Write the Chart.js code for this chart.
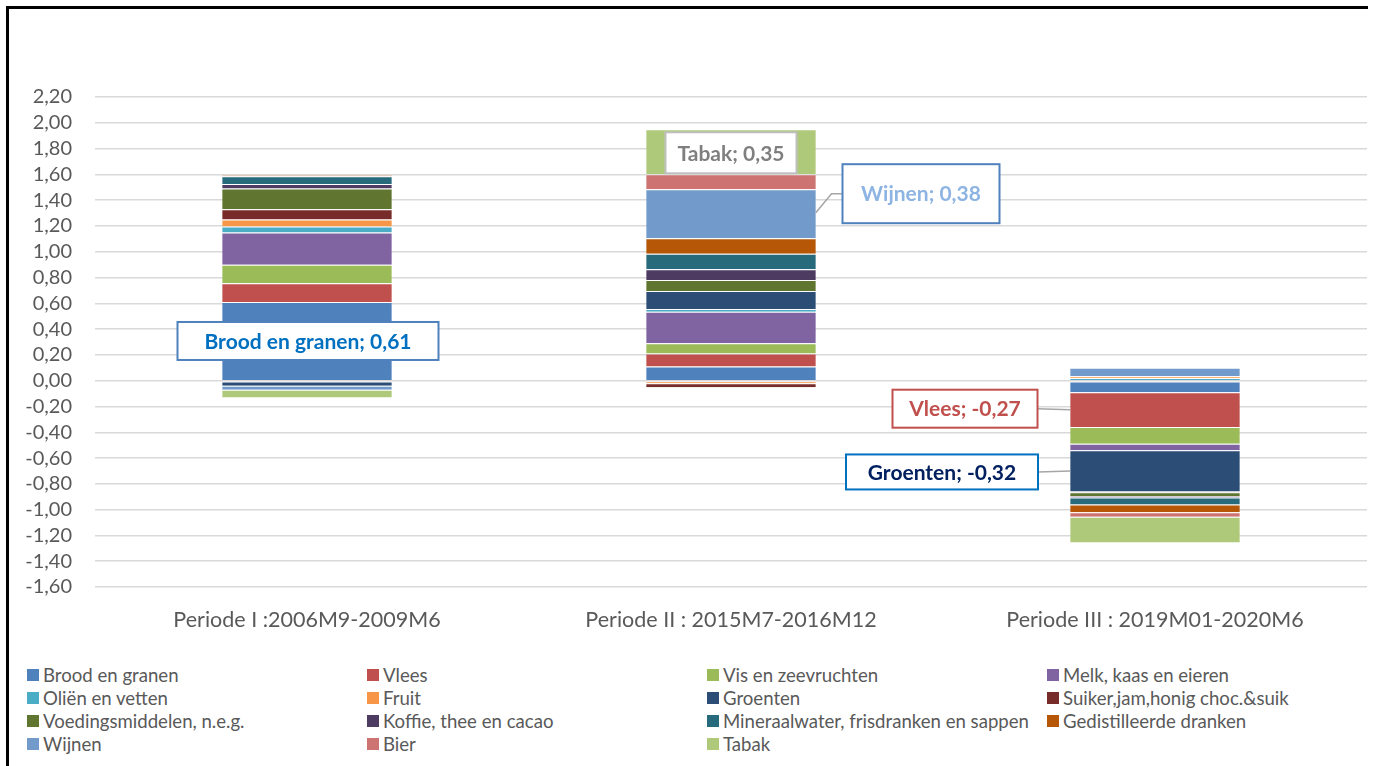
<!DOCTYPE html>
<html>
<head>
<meta charset="utf-8">
<script src="https://cdn.jsdelivr.net/npm/chart.js@4.4.0/dist/chart.umd.min.js"></script>
<style>
  html, body { margin: 0; padding: 0; background: #fff; }
  body { width: 1373px; height: 766px; position: relative; overflow: hidden; font-family: Lato, sans-serif; }
  #frame { position: absolute; left: 6px; top: 6px; width: 1359px; height: 780px; border-top: 3px solid #000; border-left: 3px solid #000; }
  #wrap { position: absolute; left: 0; top: 0; width: 1373px; height: 650px; }
  #legend { position: absolute; left: 27px; top: 663px; display: grid; grid-template-columns: 340px 340px 340px 340px; grid-auto-rows: 23px; }
  .item { display: flex; align-items: center; font-size: 18.6px; color: #595959; white-space: nowrap; }
  .sw { width: 12px; height: 12px; margin-right: 4px; flex: none; }
</style>
</head>
<body>
<div id="frame"></div>
<div id="wrap"><canvas id="chart"></canvas></div>
<div id="legend"></div>
<script>
// periods on the x axis
const categories = ['Periode I :2006M9-2009M6', 'Periode II : 2015M7-2016M12', 'Periode III : 2019M01-2020M6'];

// product groups (stack order, bottom to top)
const seriesNames = [
  'Brood en granen', 'Vlees', 'Vis en zeevruchten', 'Melk, kaas en eieren',
  'Oliën en vetten', 'Fruit', 'Groenten', 'Suiker,jam,honig choc.&suik',
  'Voedingsmiddelen, n.e.g.', 'Koffie, thee en cacao', 'Mineraalwater, frisdranken en sappen', 'Gedistilleerde dranken',
  'Wijnen', 'Bier', 'Tabak'
];

// contributions per period
const brood    = [0.61, 0.11, -0.09];
const vlees    = [0.145, 0.10, -0.27];
const vis      = [0.145, 0.08, -0.13];
const melk     = [0.25, 0.245, -0.05];
const olien    = [0.045, 0.02, 0.02];
const fruit    = [0.055, -0.02, 0.015];
const groenten = [-0.04, 0.14, -0.32];
const suiker   = [0.08, -0.03, -0.005];
const voeding  = [0.16, 0.085, -0.03];
const koffie   = [0.035, 0.085, -0.01];
const mineraal = [0.06, 0.12, -0.055];
const gedist   = [0.01, 0.12, -0.06];
const wijnen   = [-0.03, 0.38, 0.065];
const bier     = [0.0, 0.115, -0.035];
const tabak    = [-0.06, 0.35, -0.2];

const seriesValues = [brood, vlees, vis, melk, olien, fruit, groenten, suiker, voeding, koffie, mineraal, gedist, wijnen, bier, tabak];

const colors = [
  '#4F81BD', '#C0504D', '#9BBB59', '#8064A2',
  '#4BACC6', '#F79646', '#2C4D75', '#772C2A',
  '#5F7530', '#4D3B62', '#276A7C', '#B65708',
  '#729ACA', '#CD7371', '#AFC97A'
];

// callout boxes (style only)
const callouts = [
  { series: 'Brood en granen', period: 0, dx: 1, dy: 0, w: 261, h: 38, color: '#0070C0', border: '#4F81BD' },
  { series: 'Tabak', period: 1, dx: 0, dy: 1, w: 131, h: 41, color: '#7F7F7F', border: '#BFBFBF' },
  { series: 'Wijnen', period: 1, dx: 190, dy: -20, w: 157, h: 59, color: '#8DB4E2', border: '#4F81BD', leader: 'elbow' },
  { series: 'Vlees', period: 2, dx: -190, dy: -1, w: 145, h: 38, color: '#C0504D', border: '#C0504D', leader: 'left' },
  { series: 'Groenten', period: 2, dx: -213, dy: 1, w: 192, h: 35, color: '#002060', border: '#0070C0', leader: 'left' }
];

const fmt = v => v.toFixed(2).replace('.', ',');

const calloutPlugin = {
  id: 'callouts',
  afterDatasetsDraw(chart) {
    const ctx = chart.ctx;
    ctx.save();
    callouts.forEach(c => {
      const di = seriesNames.indexOf(c.series);
      const el = chart.getDatasetMeta(di).data[c.period];
      const half = el.width / 2;
      const cy = (el.y + el.base) / 2;
      const bx = el.x + c.dx, by = cy + c.dy;
      const left = bx - c.w / 2, top = by - c.h / 2;

      ctx.strokeStyle = '#A6A6A6';
      ctx.lineWidth = 1.5;
      if (c.leader === 'elbow') {
        ctx.beginPath();
        ctx.moveTo(el.x + half, cy - 1);
        ctx.lineTo(left - 11, by);
        ctx.lineTo(left, by);
        ctx.stroke();
      } else if (c.leader === 'left') {
        ctx.beginPath();
        ctx.moveTo(left + c.w, by);
        ctx.lineTo(el.x - half, cy);
        ctx.stroke();
      }

      ctx.fillStyle = '#fff';
      ctx.fillRect(left, top, c.w, c.h);
      ctx.strokeStyle = c.border;
      ctx.lineWidth = 2;
      ctx.strokeRect(left, top, c.w, c.h);

      ctx.fillStyle = c.color;
      ctx.font = 'bold 21px Lato';
      ctx.textAlign = 'center';
      ctx.textBaseline = 'middle';
      ctx.fillText(c.series + '; ' + fmt(seriesValues[di][c.period]), bx, by + 1);
    });
    ctx.restore();
  }
};

const datasets = seriesNames.map((name, i) => ({
  label: name,
  data: seriesValues[i],
  backgroundColor: colors[i],
  borderColor: 'rgba(255,255,255,0.45)',
  borderWidth: { top: 1, bottom: 0, left: 0, right: 0 },
  borderSkipped: false,
  categoryPercentage: 1,
  barPercentage: 0.4
}));

new Chart(document.getElementById('chart'), {
  type: 'bar',
  data: { labels: categories, datasets: datasets },
  options: {
    responsive: true,
    maintainAspectRatio: false,
    animation: false,
    layout: { padding: { left: 10, right: 6, top: 97, bottom: 18 } },
    plugins: {
      legend: { display: false },
      tooltip: { enabled: false }
    },
    scales: {
      x: {
        stacked: true,
        grid: { display: false, drawTicks: false },
        border: { display: false },
        ticks: { color: '#595959', font: { family: 'Lato', size: 21.5 }, padding: 20 },
        afterFit(scale) { scale.height = 45; }
      },
      y: {
        stacked: true,
        min: -1.6,
        max: 2.2,
        grid: { color: '#D9D9D9', lineWidth: 1.5, drawTicks: false },
        border: { display: false },
        ticks: {
          stepSize: 0.2,
          autoSkip: false,
          color: '#595959',
          font: { family: 'Lato', size: 20 },
          padding: 23,
          callback: v => fmt(v)
        },
        afterFit(scale) { scale.width = 85; }
      }
    }
  },
  plugins: [calloutPlugin]
});

// legend in four columns
const legend = document.getElementById('legend');
seriesNames.forEach((name, i) => {
  const item = document.createElement('div');
  item.className = 'item';
  const sw = document.createElement('span');
  sw.className = 'sw';
  sw.style.background = colors[i];
  item.appendChild(sw);
  item.appendChild(document.createTextNode(name));
  legend.appendChild(item);
});
</script>
</body>
</html>
